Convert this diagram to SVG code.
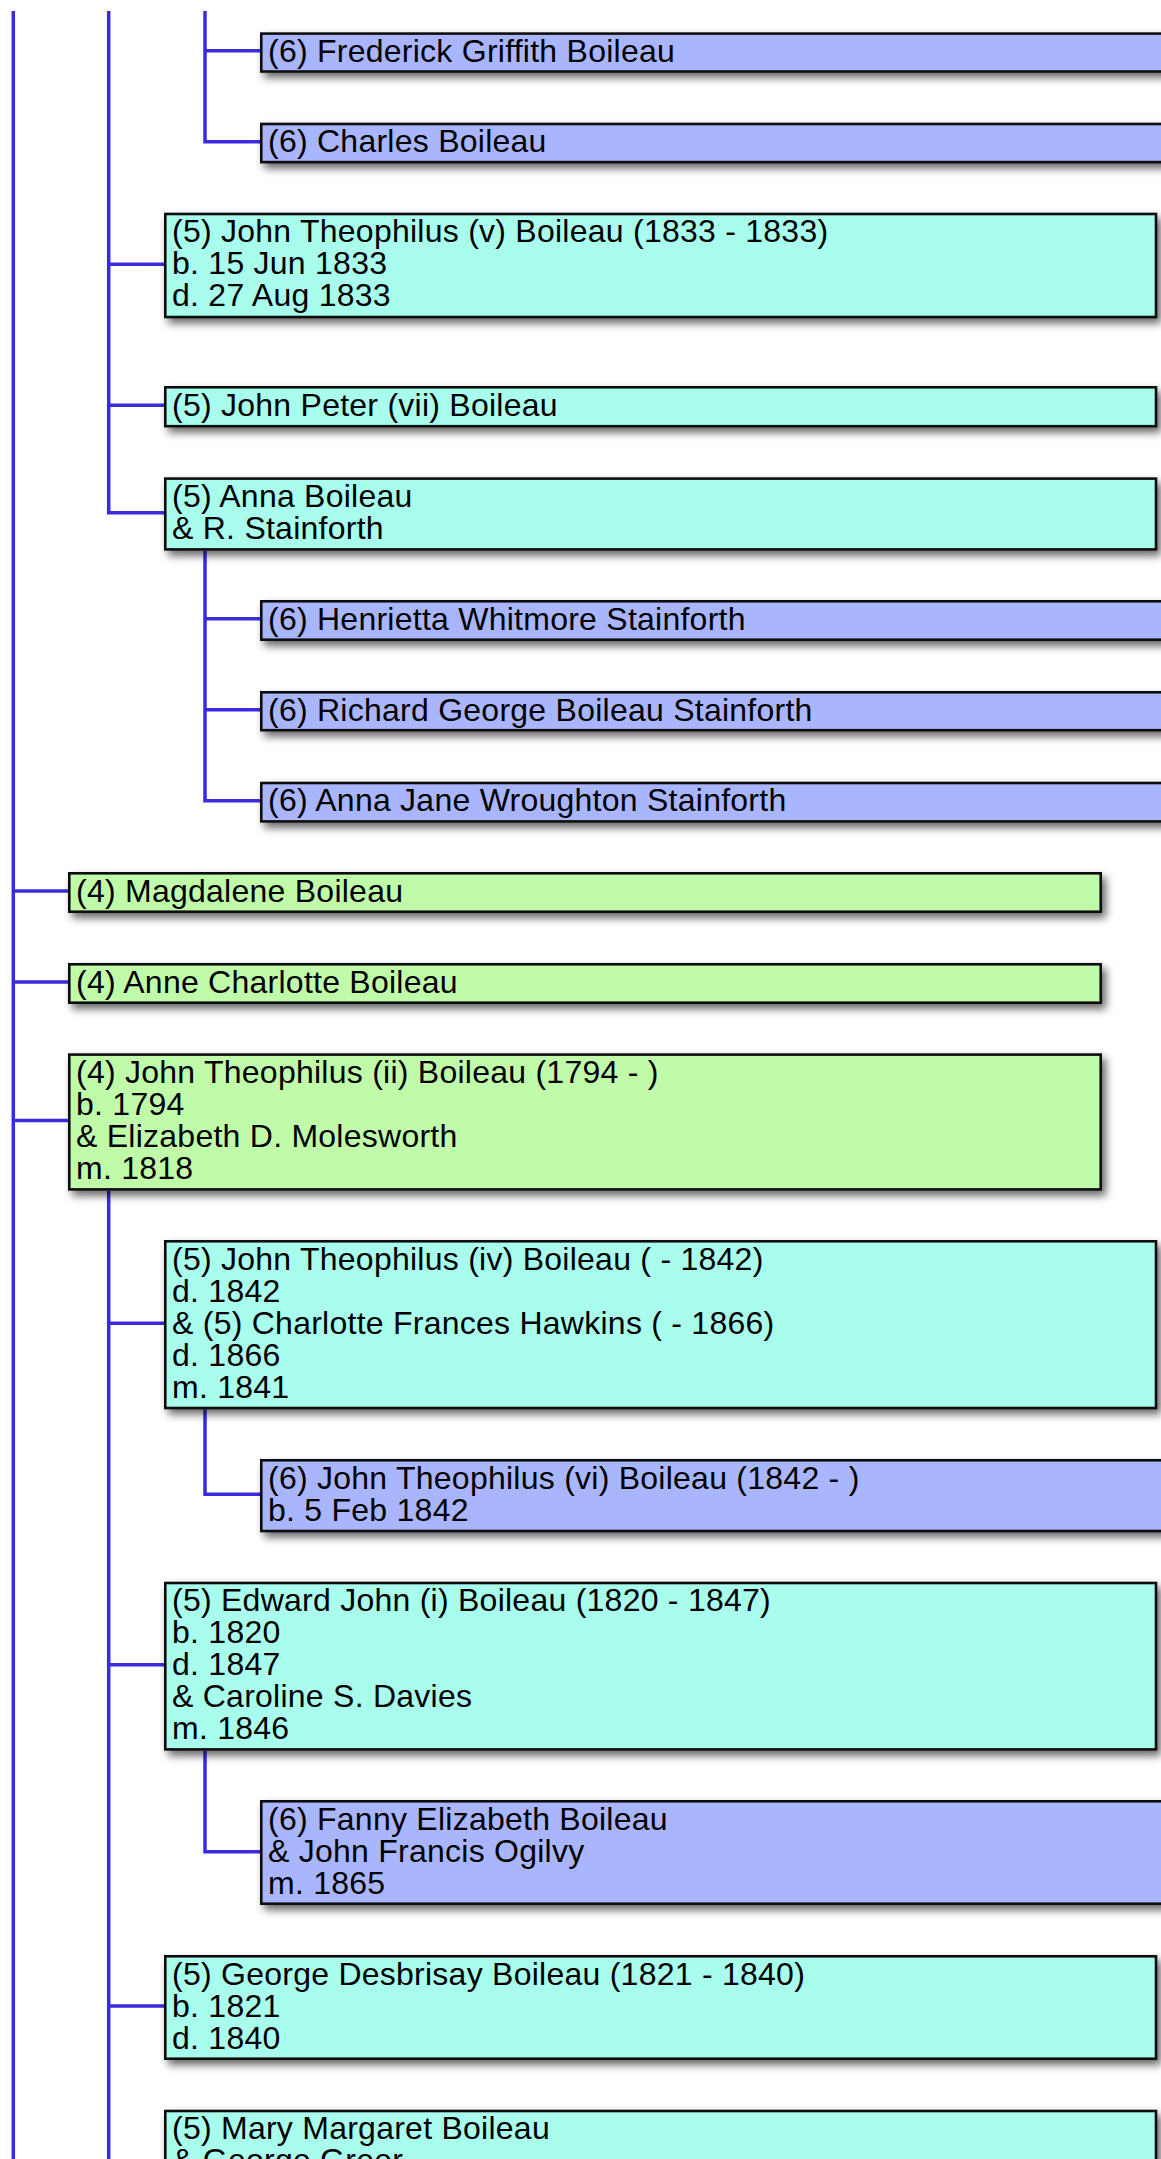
<svg xmlns="http://www.w3.org/2000/svg" width="1161" height="2159" viewBox="0 0 1161 2159">
<defs>
<filter id="sh" x="-0.05" y="-0.5" width="1.12" height="2.2">
<feDropShadow dx="4" dy="5" stdDeviation="4" flood-color="#000" flood-opacity="0.6"/>
</filter>
<style>
.g{fill:#c0fba9}
.c{fill:#a8fdec}
.b{fill:#a9b6fe}
.box{stroke:#111;stroke-width:2.6;filter:url(#sh)}
text{font-family:"Liberation Sans",Arial,Helvetica,sans-serif;font-size:32px;letter-spacing:0.25px;fill:#000}
.ln{stroke:#3a2bdc;stroke-width:3.5;fill:none}
</style>
</defs>
<rect width="1161" height="2159" fill="#fff"/>
<g id="connectors">
<path class="ln" d="M13.3,11V2159"/>
<path class="ln" d="M108.7,11V512.7H164"/>
<path class="ln" d="M205,11V141.7H260"/>
<path class="ln" d="M205,50.7H260"/>
<path class="ln" d="M108.7,264.3H164"/>
<path class="ln" d="M108.7,405.3H164"/>
<path class="ln" d="M205,550.7V800.7H260"/>
<path class="ln" d="M205,618.7H260"/>
<path class="ln" d="M205,709.7H260"/>
<path class="ln" d="M13.3,891H68"/>
<path class="ln" d="M13.3,982H68"/>
<path class="ln" d="M13.3,1120.5H68"/>
<path class="ln" d="M108.7,1190.7V2159"/>
<path class="ln" d="M108.7,1323.3H164"/>
<path class="ln" d="M205,1409.3V1494.3H260"/>
<path class="ln" d="M108.7,1664.7H164"/>
<path class="ln" d="M205,1750.7V1851.7H260"/>
<path class="ln" d="M108.7,2006H164"/>
</g>
<g id="n-frederick">
<rect class="box b" x="261.3" y="33.6" width="1000" height="37.9"/>
<text x="268" y="61.8">(6) Frederick Griffith Boileau</text>
</g>
<g id="n-charles">
<rect class="box b" x="261.3" y="124" width="1000" height="38.1"/>
<text x="268" y="152.2">(6) Charles Boileau</text>
</g>
<g id="n-jtv">
<rect class="box c" x="165.3" y="214" width="990.7" height="103"/>
<text x="172" y="242.2">(5) John Theophilus (v) Boileau (1833 - 1833)</text>
<text x="172" y="274.2">b. 15 Jun 1833</text>
<text x="172" y="306.2">d. 27 Aug 1833</text>
</g>
<g id="n-johnpeter">
<rect class="box c" x="165.3" y="387.3" width="990.7" height="38.9"/>
<text x="172" y="415.5">(5) John Peter (vii) Boileau</text>
</g>
<g id="n-anna">
<rect class="box c" x="165.3" y="478.6" width="990.7" height="70.8"/>
<text x="172" y="506.8">(5) Anna Boileau</text>
<text x="172" y="538.8">&amp; R. Stainforth</text>
</g>
<g id="n-henrietta">
<rect class="box b" x="261.3" y="601.3" width="1000" height="38.4"/>
<text x="268" y="629.5">(6) Henrietta Whitmore Stainforth</text>
</g>
<g id="n-richard">
<rect class="box b" x="261.3" y="692.3" width="1000" height="37.9"/>
<text x="268" y="720.5">(6) Richard George Boileau Stainforth</text>
</g>
<g id="n-annajane">
<rect class="box b" x="261.3" y="783" width="1000" height="38.4"/>
<text x="268" y="811.2">(6) Anna Jane Wroughton Stainforth</text>
</g>
<g id="n-magdalene">
<rect class="box g" x="69.3" y="873.3" width="1031.4" height="38.4"/>
<text x="76" y="901.5">(4) Magdalene Boileau</text>
</g>
<g id="n-annecharlotte">
<rect class="box g" x="69.3" y="964.3" width="1031.4" height="38.4"/>
<text x="76" y="992.5">(4) Anne Charlotte Boileau</text>
</g>
<g id="n-jtii">
<rect class="box g" x="69.3" y="1054.6" width="1031.4" height="134.8"/>
<text x="76" y="1082.8">(4) John Theophilus (ii) Boileau (1794 - )</text>
<text x="76" y="1114.8">b. 1794</text>
<text x="76" y="1146.8">&amp; Elizabeth D. Molesworth</text>
<text x="76" y="1178.8">m. 1818</text>
</g>
<g id="n-jtiv">
<rect class="box c" x="165.3" y="1241.3" width="990.7" height="166.7"/>
<text x="172" y="1269.5">(5) John Theophilus (iv) Boileau ( - 1842)</text>
<text x="172" y="1301.5">d. 1842</text>
<text x="172" y="1333.5">&amp; (5) Charlotte Frances Hawkins ( - 1866)</text>
<text x="172" y="1365.5">d. 1866</text>
<text x="172" y="1397.5">m. 1841</text>
</g>
<g id="n-jtvi">
<rect class="box b" x="261.3" y="1460.3" width="1000" height="70.7"/>
<text x="268" y="1488.5">(6) John Theophilus (vi) Boileau (1842 - )</text>
<text x="268" y="1520.5">b. 5 Feb 1842</text>
</g>
<g id="n-edward">
<rect class="box c" x="165.3" y="1583" width="990.7" height="166.4"/>
<text x="172" y="1611.2">(5) Edward John (i) Boileau (1820 - 1847)</text>
<text x="172" y="1643.2">b. 1820</text>
<text x="172" y="1675.2">d. 1847</text>
<text x="172" y="1707.2">&amp; Caroline S. Davies</text>
<text x="172" y="1739.2">m. 1846</text>
</g>
<g id="n-fanny">
<rect class="box b" x="261.3" y="1801.3" width="1000" height="102.4"/>
<text x="268" y="1829.5">(6) Fanny Elizabeth Boileau</text>
<text x="268" y="1861.5">&amp; John Francis Ogilvy</text>
<text x="268" y="1893.5">m. 1865</text>
</g>
<g id="n-george">
<rect class="box c" x="165.3" y="1956.3" width="990.7" height="102.4"/>
<text x="172" y="1984.5">(5) George Desbrisay Boileau (1821 - 1840)</text>
<text x="172" y="2016.5">b. 1821</text>
<text x="172" y="2048.5">d. 1840</text>
</g>
<g id="n-mary">
<rect class="box c" x="165.3" y="2111" width="990.7" height="134.4"/>
<text x="172" y="2139.2">(5) Mary Margaret Boileau</text>
<text x="172" y="2171.2">&amp; George Greer</text>
</g>
</svg>
